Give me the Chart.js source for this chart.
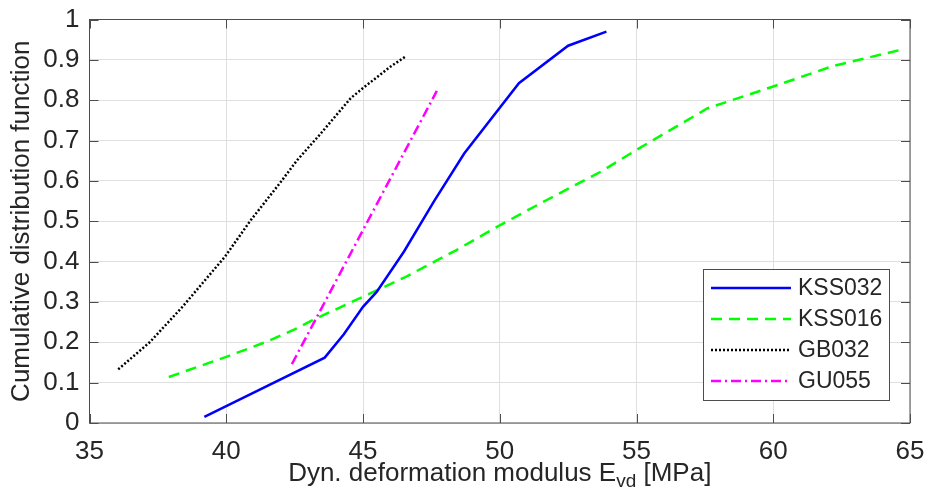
<!DOCTYPE html>
<html>
<head>
<meta charset="utf-8">
<script src="https://cdn.jsdelivr.net/npm/chart.js@4.4.1/dist/chart.umd.min.js"></script>
<style>
  body { margin: 0; background: #fff; }
  #wrap { width: 926px; height: 503px; }
</style>
</head>
<body>
<div id="wrap"><canvas id="cdf"></canvas></div>
<script>
// Data
const xTicks = [35, 40, 45, 50, 55, 60, 65];
const yTicks = [0, 0.1, 0.2, 0.3, 0.4, 0.5, 0.6, 0.7, 0.8, 0.9, 1];

const kss032X = [39.2, 43.6, 44.3, 45.0, 45.5, 46.5, 47.6, 48.7, 50.7, 52.5, 53.9];
const kss032Y = [0.015, 0.162, 0.22, 0.288, 0.325, 0.425, 0.55, 0.668, 0.842, 0.935, 0.97];

const kss016X = [37.9, 40.0, 41.5, 42.5, 43.1, 45.0, 46.5, 48.4, 50.0, 51.7, 53.7, 55.0, 57.6, 60.0, 62.2, 64.8];
const kss016Y = [0.114, 0.164, 0.202, 0.232, 0.253, 0.313, 0.36, 0.428, 0.49, 0.552, 0.623, 0.677, 0.78, 0.834, 0.885, 0.927];

const gb032X = [36.05, 37.2, 38.4, 39.95, 40.9, 42.0, 42.6, 43.4, 44.55, 45.0, 46.0, 46.55];
const gb032Y = [0.133, 0.2, 0.288, 0.412, 0.503, 0.598, 0.652, 0.713, 0.805, 0.83, 0.883, 0.908];

const gu055X = [42.4, 47.7];
const gu055Y = [0.146, 0.823];

const FONT = "'Liberation Sans', Arial, sans-serif";
const TXT = '#262626';

function pts(xs, ys) {
  return xs.map((v, i) => ({ x: v, y: ys[i] }));
}

function series(label, xs, ys, color, dash, width) {
  return {
    label: label,
    data: pts(xs, ys),
    borderColor: color,
    backgroundColor: color,
    borderWidth: width,
    borderDash: dash,
    showLine: true,
    pointRadius: 0,
    tension: 0,
    fill: false
  };
}

// Box, inward ticks, x title with subscript, legend inside the axes
const matlabLook = {
  id: 'matlabLook',
  afterDraw(chart) {
    const { ctx, chartArea: a, scales: { x, y } } = chart;
    ctx.save();
    ctx.strokeStyle = '#4d4d4d';
    ctx.lineWidth = 1;
    ctx.strokeRect(a.left, a.top, a.right - a.left, a.bottom - a.top);
    ctx.beginPath();
    x.ticks.forEach(t => {
      const px = Math.round(x.getPixelForValue(t.value)) + 0.5;
      ctx.moveTo(px, a.bottom); ctx.lineTo(px, a.bottom - 9);
      ctx.moveTo(px, a.top); ctx.lineTo(px, a.top + 9);
    });
    y.ticks.forEach(t => {
      const py = Math.round(y.getPixelForValue(t.value)) + 0.5;
      ctx.moveTo(a.left, py); ctx.lineTo(a.left + 9, py);
      ctx.moveTo(a.right, py); ctx.lineTo(a.right - 9, py);
    });
    ctx.stroke();

    // x axis title
    ctx.fillStyle = TXT;
    ctx.textBaseline = 'alphabetic';
    ctx.textAlign = 'left';
    const big = '26px ' + FONT, small = '19px ' + FONT;
    const p1 = 'Dyn. deformation modulus E', sub = 'vd', p2 = ' [MPa]';
    ctx.font = big;
    const w1 = ctx.measureText(p1).width, w3 = ctx.measureText(p2).width;
    ctx.font = small;
    const w2 = ctx.measureText(sub).width;
    let tx = (a.left + a.right) / 2 - (w1 + w2 + w3) / 2;
    const base = a.bottom + 58;
    ctx.font = big; ctx.fillText(p1, tx, base); tx += w1;
    ctx.font = small; ctx.fillText(sub, tx, base + 6); tx += w2;
    ctx.font = big; ctx.fillText(p2, tx, base);

    // legend
    const bw = 186, bh = 131;
    const bx = a.right - 21 - bw, by = a.bottom - 23 - bh;
    ctx.fillStyle = '#fff';
    ctx.fillRect(bx, by, bw, bh);
    ctx.strokeStyle = '#4d4d4d';
    ctx.strokeRect(Math.round(bx) + 0.5, Math.round(by) + 0.5, bw, bh);
    ctx.font = '23px ' + FONT;
    ctx.textBaseline = 'middle';
    chart.data.datasets.forEach((ds, i) => {
      const ly = by + 19 + i * 31;
      ctx.strokeStyle = ds.borderColor;
      ctx.lineWidth = ds.borderWidth;
      ctx.setLineDash(ds.borderDash);
      ctx.beginPath();
      ctx.moveTo(bx + 8, ly); ctx.lineTo(bx + 88, ly);
      ctx.stroke();
      ctx.setLineDash([]);
      ctx.fillStyle = TXT;
      ctx.fillText(ds.label, bx + 95, ly + 1);
    });
    ctx.restore();
  }
};

new Chart(document.getElementById('cdf'), {
  type: 'scatter',
  data: {
    datasets: [
      series('KSS032', kss032X, kss032Y, '#0000ff', [], 2.5),
      series('KSS016', kss016X, kss016Y, '#00ff00', [11, 7], 2.5),
      series('GB032', gb032X, gb032Y, '#000000', [2, 2], 2.5),
      series('GU055', gu055X, gu055Y, '#ff00ff', [10, 4, 2, 4], 2.5)
    ]
  },
  options: {
    responsive: true,
    maintainAspectRatio: false,
    animation: false,
    layout: { padding: { top: 19.5, right: 16, left: 0, bottom: 0 } },
    plugins: { legend: { display: false }, tooltip: { enabled: false } },
    scales: {
      x: {
        type: 'linear',
        min: 35, max: 65,
        afterBuildTicks: s => { s.ticks = xTicks.map(v => ({ value: v })); },
        afterFit: s => { s.height = 80; s.paddingLeft = 0; s.paddingRight = 0; },
        grid: { color: '#dfdfdf', drawTicks: false },
        border: { display: false },
        ticks: { color: TXT, font: { family: FONT, size: 26 }, padding: 13, maxRotation: 0 }
      },
      y: {
        type: 'linear',
        min: 0, max: 1,
        afterBuildTicks: s => { s.ticks = yTicks.map(v => ({ value: v })); },
        afterFit: s => { s.width = 89.5; s.paddingTop = 0; s.paddingBottom = 0; },
        grid: { color: '#dfdfdf', drawTicks: false },
        border: { display: false },
        ticks: { color: TXT, font: { family: FONT, size: 26 }, padding: 10, callback: v => String(v) },
        title: {
          display: true,
          text: 'Cumulative distribution function',
          color: TXT,
          font: { family: FONT, size: 26 },
          padding: { top: 6, bottom: 0 }
        }
      }
    }
  },
  plugins: [matlabLook]
});
</script>
</body>
</html>
